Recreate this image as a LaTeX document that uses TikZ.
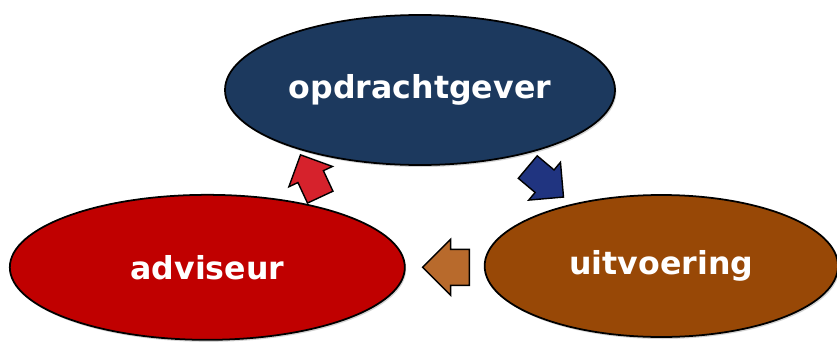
\documentclass[tikz,border=0pt]{standalone}
\usepackage{fontspec}
\setsansfont{DejaVu Sans}
\usepackage{tikz}
\usetikzlibrary{ shapes.geometric }
\usetikzlibrary{ shapes.arrows }
\usetikzlibrary{ shadows }

\definecolor{blauw}{RGB}{28,57,94}
\definecolor{rood}{RGB}{192,0,0}
\definecolor{bruin}{RGB}{152,72,6}
\definecolor{pijlblauw}{RGB}{32,52,128}
\definecolor{pijlrood}{RGB}{214,34,44}
\definecolor{pijlbruin}{RGB}{184,106,44}

\tikzset{
    rol/.style={ellipse, draw=black, line width=1.5pt, text=white,
        font=\sffamily\bfseries\fontsize{27}{30}\selectfont, inner sep=0pt,
        drop shadow={opacity=0.35, shadow xshift=0.04cm, shadow yshift=-0.06cm}},
    pijl/.style={single arrow, draw=black, line width=1.2pt, inner xsep=0pt,
        single arrow head extend=0.3cm, minimum height=1.4cm}
}

\begin{document}
\begin{tikzpicture}
    \useasboundingbox (0,0) rectangle (25.11,10.32);
    \node[rol, fill=blauw, minimum width=11.7cm, minimum height=4.5cm]
        (opdrachtgever) at (12.6,7.62) {opdrachtgever};
    \node[rol, fill=rood, minimum width=11.85cm, minimum height=4.35cm]
        (adviseur) at (6.22,2.3) {adviseur};
    \node[rol, fill=bruin, minimum width=10.6cm, minimum height=4.26cm]
        (uitvoering) at (19.84,2.34) {uitvoering};
    \node[pijl, fill=pijlblauw, inner ysep=0.42cm, rotate=-40]
        (naaruitvoering) at (16.2,5.0) {};
    \node[pijl, fill=pijlbruin, inner ysep=0.52cm, rotate=180]
        (naaradviseur) at (13.65,2.3) {};
    \node[pijl, fill=pijlrood, inner ysep=0.4cm, rotate=115]
        (naaropdrachtgever) at (9.4,4.85) {};
\end{tikzpicture}
\end{document}
